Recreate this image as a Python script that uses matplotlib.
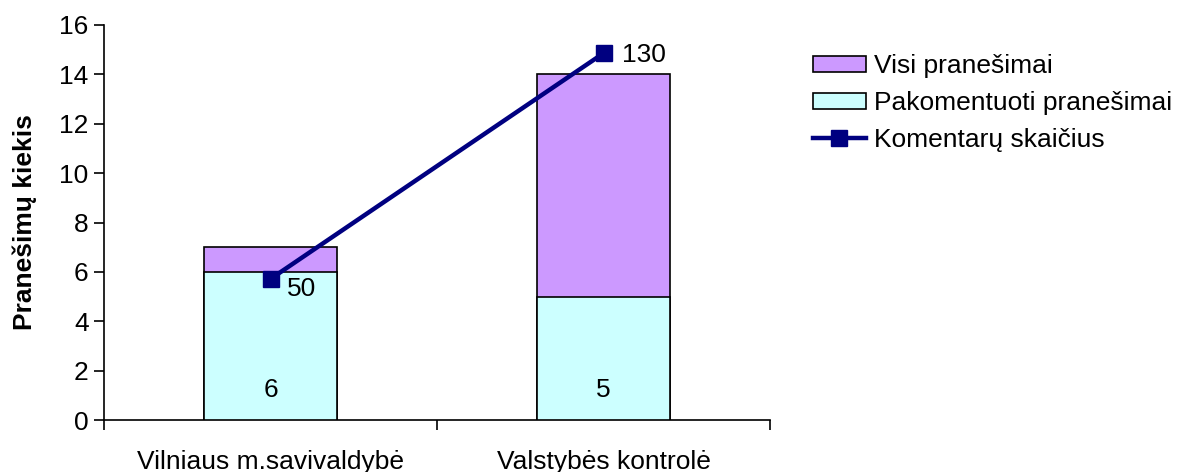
import matplotlib
matplotlib.use("Agg")
import matplotlib.pyplot as plt
from matplotlib.patches import Patch
from matplotlib.lines import Line2D

categories = ["Vilniaus m.savivaldybė", "Valstybės kontrolė"]
visi = [7, 14]
pakomentuoti = [6, 5]
komentarai = [50, 130]
yticks = [0, 2, 4, 6, 8, 10, 12, 14, 16]

plt.rcParams['font.family'] = ['Liberation Sans', 'DejaVu Sans']
FS = 19

fig = plt.figure(figsize=(11.8, 4.72), dpi=100)
ax = fig.add_axes([104/1180, 1-420/472, 666/1180, 395/472])

x = list(range(len(categories)))
purple = "#CC99FF"
cyan = "#CCFFFF"
ax.bar(x, visi, width=0.4, color=purple, edgecolor="black", linewidth=1.2, zorder=2)
ax.bar(x, pakomentuoti, width=0.4, color=cyan, edgecolor="black", linewidth=1.2, zorder=3)

for xi, v in zip(x, pakomentuoti):
    ax.annotate(str(v), (xi, 0), xytext=(0, 21.5), textcoords="offset points",
                ha="center", va="center", fontsize=FS, zorder=5)

ax.set_xlim(-0.5, 1.5)
ax.set_ylim(0, 16)
ax.set_yticks(yticks)
ax.set_yticklabels([str(t) for t in yticks], fontsize=FS)
ax.set_xticks(x)
ax.set_xticklabels(categories, fontsize=FS)
ax.tick_params(axis="x", which="major", length=0, pad=21.5)
ax.set_xticks([-0.5, 0.5, 1.5], minor=True)
ax.tick_params(axis="x", which="minor", length=7, width=1.2, direction="out")
ax.tick_params(axis="y", length=7, width=1.2, direction="out", pad=4)
for s in ["top", "right"]:
    ax.spines[s].set_visible(False)
ax.spines["left"].set_linewidth(1.2)
ax.spines["bottom"].set_linewidth(1.2)
ax.set_ylabel("Pranešimų kiekis", fontsize=FS, fontweight="bold")
ax.yaxis.set_label_coords(-67/666, 0.5)

ax2 = ax.twinx()
ax2.set_ylim(0, 140)
ax2.axis("off")
ax2.plot(x, komentarai, color="#000080", linewidth=3.2, marker="s", markersize=11, zorder=6)
ax2.annotate(str(komentarai[0]), (x[0], komentarai[0]), xytext=(12, -7), textcoords="offset points",
             ha="left", va="center", fontsize=FS)
ax2.annotate(str(komentarai[1]), (x[1], komentarai[1]), xytext=(13, -1.5), textcoords="offset points",
             ha="left", va="center", fontsize=FS)

handles = [Patch(facecolor=purple, edgecolor="black", linewidth=1.2),
           Patch(facecolor=cyan, edgecolor="black", linewidth=1.2),
           Line2D([], [], color="#000080", linewidth=3.2, marker="s", markersize=11)]
labels = ["Visi pranešimai", "Pakomentuoti pranešimai", "Komentarų skaičius"]
fig.legend(handles, labels, loc="upper left", bbox_to_anchor=(813/1180, 1-54/472),
           frameon=False, fontsize=FS, handlelength=2.0, handleheight=0.55,
           handletextpad=0.3, labelspacing=0.49, borderaxespad=0, borderpad=0)

fig.savefig("out.png", dpi=100)
